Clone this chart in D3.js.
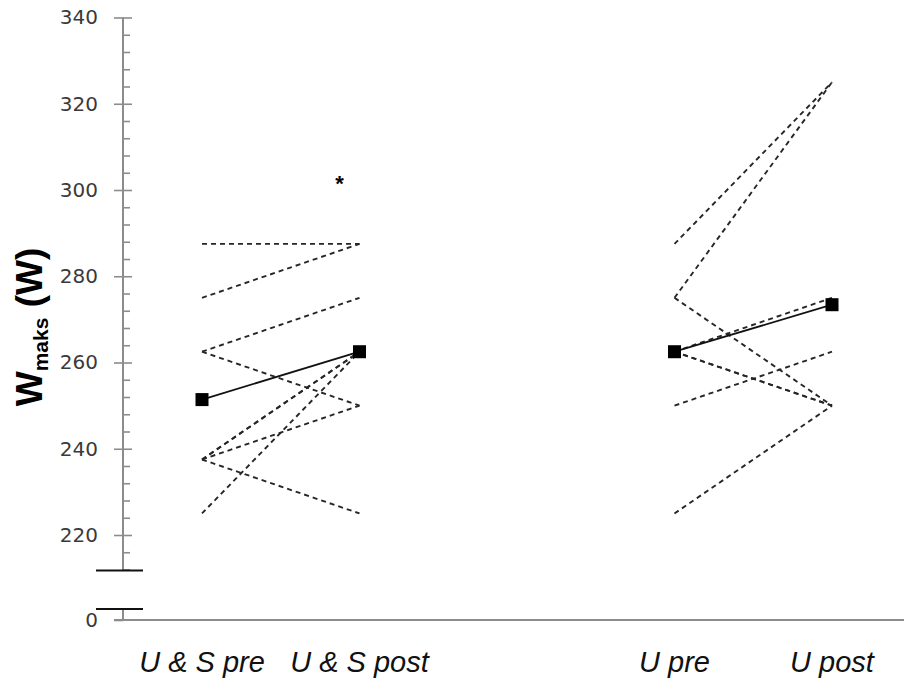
<!DOCTYPE html>
<html>
<head>
<meta charset="utf-8">
<script src="https://cdn.jsdelivr.net/npm/d3@7"></script>
<style>
  html, body { margin: 0; padding: 0; background: #fff; }
  svg { display: block; }
</style>
</head>
<body>
<svg id="chart" width="904" height="681"></svg>
<script>
// ---- data ----
const categories = ["U & S pre", "U & S post", "", "U pre", "U post"];
const yTicks = [220, 240, 260, 280, 300, 320, 340];
const yMinorTicks = [212, 216, 224, 228, 232, 236, 244, 248, 252, 256, 264, 268, 272, 276, 284, 288, 292, 296, 304, 308, 312, 316, 324, 328, 332, 336];
const usPre  = [287.5, 275, 262.5, 262.5, 237.5, 237.5, 237.5, 237.5, 225];
const usPost = [287.5, 287.5, 275, 250, 262.5, 262.5, 250, 225, 262.5];
const uPre   = [287.5, 275, 275, 262.5, 262.5, 262.5, 250, 225];
const uPost  = [325, 325, 250, 250, 250, 275, 262.5, 250];
const usMean = [251.4, 262.5];
const uMean  = [262.5, 273.4];
const starValue = 302;

// ---- layout ----
const svg = d3.select("#chart");
const axisX = 123;
const x = d3.scalePoint().domain(categories).range([202, 832]);
const y = d3.scaleLinear().domain([220, 340]).range([535, 17.5]);
const breakTop = 570.5, breakBottom = 609, zeroY = 620;
const axisColor = "#8c8c8c";
const labelFont = "'DejaVu Sans', Verdana, sans-serif";

// upper y axis (major ticks crossing the axis)
const gL = svg.append("g").attr("transform", `translate(${axisX},0)`);
gL.append("line").attr("x1", 0).attr("x2", 0).attr("y1", y(340)).attr("y2", breakTop)
  .attr("stroke", axisColor).attr("stroke-width", 2);
const axL = d3.axisLeft(y).tickValues(yTicks).tickSize(9).tickPadding(16).tickSizeOuter(0).tickFormat(d3.format("d"));
gL.call(axL);
const axR = d3.axisRight(y).tickValues(yTicks).tickSize(9).tickFormat("").tickSizeOuter(0);
gL.append("g").call(axR);
const axM = d3.axisRight(y).tickValues(yMinorTicks).tickSize(7).tickFormat("").tickSizeOuter(0);
gL.append("g").call(axM);
gL.selectAll(".domain").remove();
gL.selectAll(".tick line").attr("stroke", axisColor).attr("stroke-width", 1.6);
gL.selectAll(".tick text").attr("font-family", labelFont).attr("font-size", 20)
  .attr("fill", "#3a3a3a");

// lower segment (0)
const y0 = d3.scaleLinear().domain([0, 1]).range([zeroY, zeroY - 10]);
const g0 = svg.append("g").attr("transform", `translate(${axisX},0)`);
g0.append("line").attr("x1", 0).attr("x2", 0).attr("y1", breakBottom).attr("y2", zeroY)
  .attr("stroke", axisColor).attr("stroke-width", 2);
g0.call(d3.axisLeft(y0).tickValues([0]).tickSize(9).tickPadding(16).tickSizeOuter(0).tickFormat(d3.format("d")));
g0.selectAll(".domain").remove();
g0.selectAll(".tick line").attr("stroke", axisColor).attr("stroke-width", 1.6);
g0.selectAll(".tick text").attr("font-family", labelFont).attr("font-size", 20)
  .attr("fill", "#3a3a3a");

// break bars
[breakTop, breakBottom].forEach(by => {
  svg.append("line").attr("x1", 96).attr("x2", 143).attr("y1", by).attr("y2", by)
    .attr("stroke", "#111").attr("stroke-width", 2);
});

// x axis line
svg.append("line").attr("x1", 114).attr("x2", 904).attr("y1", zeroY).attr("y2", zeroY)
  .attr("stroke", axisColor).attr("stroke-width", 2);

// x labels
svg.append("g").selectAll("text").data(categories.filter(c => c !== "")).join("text")
  .attr("x", d => x(d)).attr("y", 672)
  .attr("text-anchor", "middle")
  .attr("font-family", "'Liberation Sans Narrow', 'Liberation Sans', Arial, sans-serif")
  .attr("font-style", "italic").attr("font-size", 29).attr("fill", "#111")
  .text(d => d);

// y title
const title = svg.append("text")
  .attr("transform", "translate(42,327) rotate(-90)")
  .attr("text-anchor", "middle")
  .attr("font-family", "'Liberation Sans Narrow', 'Liberation Sans', Arial, sans-serif")
  .attr("font-weight", "bold").attr("font-size", 37).attr("fill", "#000");
title.append("tspan").text("W");
title.append("tspan").attr("font-size", 21).attr("dy", 6).text("maks");
title.append("tspan").attr("dy", -6).text(" (W)");

// individual dashed lines
function drawGroup(pre, post, mean, c0, c1) {
  const g = svg.append("g");
  g.selectAll("line.ind").data(pre.map((p, i) => [p, post[i]])).join("line")
    .attr("class", "ind")
    .attr("x1", x(c0)).attr("x2", x(c1))
    .attr("y1", d => y(d[0])).attr("y2", d => y(d[1]))
    .attr("stroke", "#262626").attr("stroke-width", 1.9)
    .attr("stroke-dasharray", "5,4");
  g.append("line")
    .attr("x1", x(c0)).attr("x2", x(c1))
    .attr("y1", y(mean[0])).attr("y2", y(mean[1]))
    .attr("stroke", "#111").attr("stroke-width", 1.8);
  g.selectAll("rect").data([[c0, mean[0]], [c1, mean[1]]]).join("rect")
    .attr("x", d => x(d[0]) - 6.5).attr("y", d => y(d[1]) - 6.5)
    .attr("width", 13).attr("height", 13).attr("fill", "#000");
}
drawGroup(usPre, usPost, usMean, "U & S pre", "U & S post");
drawGroup(uPre, uPost, uMean, "U pre", "U post");

// significance star
svg.append("text").attr("x", x("U & S post") - 20).attr("y", y(starValue) + 10)
  .attr("text-anchor", "middle").attr("font-family", "'Liberation Sans', Arial, sans-serif")
  .attr("font-weight", "bold")
  .attr("font-size", 22).attr("fill", "#000").text("*");
</script>
</body>
</html>
